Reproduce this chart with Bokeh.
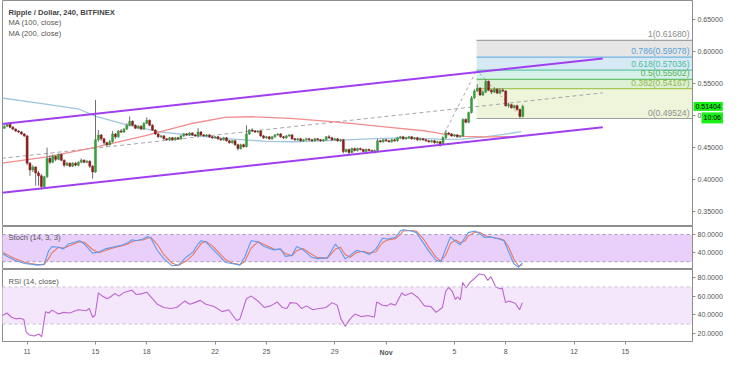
from bokeh.plotting import figure
from bokeh.layouts import column
from bokeh.models import Range1d, FixedTicker, PrintfTickFormatter, Label, Span
from bokeh.embed import file_html
from bokeh.resources import INLINE

FONT = "Liberation Sans"

# ---------------- data ----------------
candle_start_day = 9.667          # Oct 9, 16:00 (x axis: day of October, Nov 1 = 32)
candle_step_day = 1.0 / 6.0       # 240-minute candles

opens = [0.4803,0.4833,0.4864,0.4818,0.4788,0.4758,0.4742,0.4712,0.4682,0.4258,
 0.4152,0.4197,0.4106,0.4061,0.3894,0.4045,0.4333,0.4273,0.4364,0.4318,
 0.4394,0.4303,0.4227,0.4258,0.4212,0.4258,0.4227,0.4273,0.4303,0.4273,
 0.4288,0.4212,0.4121,0.4621,0.4697,0.4636,0.4576,0.4545,0.4591,0.4712,
 0.4667,0.4758,0.4742,0.4788,0.4848,0.4909,0.4848,0.4803,0.4833,0.4788,
 0.4879,0.4924,0.4848,0.4773,0.4712,0.4667,0.4682,0.4636,0.4621,0.4652,
 0.4621,0.4652,0.4636,0.4682,0.4712,0.4697,0.4727,0.4697,0.4682,0.4742,
 0.4697,0.4682,0.4697,0.4667,0.4652,0.4667,0.4636,0.4621,0.4652,0.4606,
 0.4576,0.4606,0.4545,0.4485,0.4545,0.4515,0.4712,0.4773,0.4758,0.4742,
 0.4758,0.4682,0.4652,0.4667,0.4636,0.4667,0.4697,0.4712,0.4667,0.4652,
 0.4682,0.4697,0.4636,0.4621,0.4636,0.4606,0.4621,0.4636,0.4621,0.4606,
 0.4636,0.4621,0.4606,0.4621,0.4667,0.4652,0.4621,0.4636,0.4606,0.4621,
 0.4439,0.4470,0.4424,0.4485,0.4455,0.4485,0.4470,0.4439,0.4470,0.4455,
 0.4439,0.4455,0.4606,0.4591,0.4621,0.4606,0.4591,0.4621,0.4606,0.4652,
 0.4667,0.4636,0.4652,0.4667,0.4636,0.4652,0.4621,0.4636,0.4621,0.4606,
 0.4591,0.4606,0.4576,0.4591,0.4561,0.4652,0.4727,0.4712,0.4682,0.4697,
 0.4667,0.4682,0.4939,0.4894,0.5045,0.5273,0.5379,0.5424,0.5318,0.5364,
 0.5530,0.5394,0.5364,0.5409,0.5348,0.5394,0.5379,0.5152,0.5167,0.5121,
 0.5152,0.5091,0.4985]

highs = [0.4848,0.4879,0.4870,0.4833,0.4800,0.4773,0.4758,0.4727,0.4697,0.4273,
 0.4227,0.4212,0.4136,0.4091,0.4061,0.4500,0.4379,0.4394,0.4379,0.4409,
 0.4409,0.4318,0.4273,0.4273,0.4273,0.4273,0.4288,0.4333,0.4318,0.4303,
 0.4303,0.4227,0.5242,0.4773,0.4712,0.4652,0.4591,0.4621,0.4758,0.4727,
 0.4773,0.4788,0.4803,0.4879,0.4985,0.4924,0.4864,0.4848,0.4848,0.4894,
 0.4970,0.4939,0.4864,0.4788,0.4727,0.4697,0.4697,0.4652,0.4667,0.4667,
 0.4667,0.4667,0.4697,0.4727,0.4727,0.4742,0.4742,0.4712,0.4803,0.4758,
 0.4712,0.4712,0.4712,0.4682,0.4682,0.4682,0.4652,0.4667,0.4667,0.4621,
 0.4621,0.4621,0.4561,0.4561,0.4561,0.4848,0.4788,0.4803,0.4773,0.4773,
 0.4773,0.4697,0.4682,0.4682,0.4682,0.4712,0.4727,0.4727,0.4682,0.4697,
 0.4712,0.4712,0.4652,0.4652,0.4652,0.4636,0.4652,0.4652,0.4636,0.4652,
 0.4652,0.4636,0.4636,0.4682,0.4697,0.4667,0.4652,0.4652,0.4636,0.4636,
 0.4485,0.4485,0.4500,0.4500,0.4500,0.4500,0.4485,0.4485,0.4485,0.4470,
 0.4470,0.4636,0.4621,0.4636,0.4636,0.4621,0.4636,0.4636,0.4667,0.4682,
 0.4682,0.4667,0.4682,0.4682,0.4667,0.4667,0.4652,0.4652,0.4636,0.4621,
 0.4621,0.4621,0.4606,0.4606,0.4667,0.4773,0.4742,0.4727,0.4712,0.4712,
 0.4697,0.4955,0.4955,0.5061,0.5303,0.5409,0.5485,0.5439,0.5394,0.5561,
 0.5545,0.5409,0.5439,0.5424,0.5424,0.5424,0.5394,0.5197,0.5182,0.5167,
 0.5167,0.5106,0.5167]

lows = [0.4788,0.4818,0.4803,0.4773,0.4742,0.4727,0.4697,0.4667,0.4227,0.4061,
 0.4121,0.3909,0.3909,0.3848,0.3864,0.4030,0.4242,0.4258,0.4288,0.4303,
 0.4288,0.4197,0.4212,0.4197,0.4197,0.4212,0.4212,0.4258,0.4258,0.4258,
 0.4182,0.4015,0.4106,0.4591,0.4606,0.4545,0.4515,0.4530,0.4576,0.4636,
 0.4652,0.4727,0.4727,0.4773,0.4833,0.4833,0.4788,0.4788,0.4773,0.4773,
 0.4864,0.4833,0.4758,0.4697,0.4652,0.4652,0.4621,0.4606,0.4606,0.4606,
 0.4606,0.4621,0.4621,0.4667,0.4682,0.4682,0.4682,0.4667,0.4667,0.4682,
 0.4667,0.4667,0.4652,0.4636,0.4636,0.4621,0.4606,0.4606,0.4591,0.4561,
 0.4561,0.4530,0.4455,0.4470,0.4500,0.4500,0.4697,0.4742,0.4727,0.4727,
 0.4667,0.4636,0.4636,0.4621,0.4621,0.4652,0.4682,0.4652,0.4636,0.4636,
 0.4667,0.4621,0.4606,0.4606,0.4591,0.4591,0.4606,0.4606,0.4591,0.4591,
 0.4606,0.4591,0.4591,0.4606,0.4636,0.4606,0.4606,0.4591,0.4591,0.4409,
 0.4424,0.4394,0.4409,0.4439,0.4439,0.4455,0.4424,0.4424,0.4439,0.4424,
 0.4409,0.4439,0.4576,0.4576,0.4591,0.4576,0.4576,0.4591,0.4591,0.4636,
 0.4621,0.4621,0.4636,0.4621,0.4621,0.4606,0.4606,0.4606,0.4591,0.4576,
 0.4576,0.4561,0.4561,0.4515,0.4545,0.4636,0.4697,0.4667,0.4667,0.4652,
 0.4652,0.4667,0.4879,0.4879,0.5030,0.5258,0.5364,0.5303,0.5303,0.5348,
 0.5379,0.5333,0.5348,0.5333,0.5333,0.5364,0.5136,0.5121,0.5106,0.5106,
 0.5076,0.4952,0.4970]

closes = [0.4833,0.4864,0.4818,0.4788,0.4758,0.4742,0.4712,0.4682,0.4258,0.4152,
 0.4197,0.4106,0.4061,0.3894,0.4045,0.4333,0.4273,0.4364,0.4318,0.4394,
 0.4303,0.4227,0.4258,0.4212,0.4258,0.4227,0.4273,0.4303,0.4273,0.4288,
 0.4212,0.4121,0.4621,0.4697,0.4636,0.4576,0.4545,0.4591,0.4712,0.4667,
 0.4758,0.4742,0.4788,0.4848,0.4909,0.4848,0.4803,0.4833,0.4788,0.4879,
 0.4924,0.4848,0.4773,0.4712,0.4667,0.4682,0.4636,0.4621,0.4652,0.4621,
 0.4652,0.4636,0.4682,0.4712,0.4697,0.4727,0.4697,0.4682,0.4742,0.4697,
 0.4682,0.4697,0.4667,0.4652,0.4667,0.4636,0.4621,0.4652,0.4606,0.4576,
 0.4606,0.4545,0.4485,0.4545,0.4515,0.4712,0.4773,0.4758,0.4742,0.4758,
 0.4682,0.4652,0.4667,0.4636,0.4667,0.4697,0.4712,0.4667,0.4652,0.4682,
 0.4697,0.4636,0.4621,0.4636,0.4606,0.4621,0.4636,0.4621,0.4606,0.4636,
 0.4621,0.4606,0.4621,0.4667,0.4652,0.4621,0.4636,0.4606,0.4621,0.4439,
 0.4470,0.4424,0.4485,0.4455,0.4485,0.4470,0.4439,0.4470,0.4455,0.4439,
 0.4455,0.4606,0.4591,0.4621,0.4606,0.4591,0.4621,0.4606,0.4652,0.4667,
 0.4636,0.4652,0.4667,0.4636,0.4652,0.4621,0.4636,0.4621,0.4606,0.4591,
 0.4606,0.4576,0.4591,0.4561,0.4652,0.4727,0.4712,0.4682,0.4697,0.4667,
 0.4682,0.4939,0.4894,0.5045,0.5273,0.5379,0.5424,0.5318,0.5364,0.5530,
 0.5394,0.5364,0.5409,0.5348,0.5394,0.5379,0.5152,0.5167,0.5121,0.5152,
 0.5091,0.4985,0.5140]

ma100_days = [9.50,12.18,15.02,17.87,20.71,22.58,24.12,26.39,28.66,30.37,32.07,34.35,35.48,36.62,37.76,39.92]
ma100_vals = [0.4258,0.4356,0.4508,0.4682,0.4879,0.4970,0.4980,0.4955,0.4909,0.4864,0.4818,0.4758,0.4705,0.4674,0.4667,0.4674]

ma200_days = [9.50,12.18,14.05,15.02,16.90,18.83,20.71,22.58,24.97,26.56,29.40,31.33,33.21,35.31,36.45,37.76,38.90,39.92]
ma200_vals = [0.5273,0.5173,0.5097,0.4985,0.4848,0.4742,0.4692,0.4641,0.4598,0.4591,0.4616,0.4641,0.4652,0.4629,0.4632,0.4667,0.4705,0.4750]

channel_days = [9.52, 44.68]
channel_upper = [0.4868, 0.5886]
channel_lower = [0.3798, 0.4818]
channel_mid = [0.4333, 0.5352]

trend_up_days = [35.10, 37.30]
trend_up_prices = [0.4561, 0.5704]
trend_down_days = [37.30, 39.85]
trend_down_prices = [0.5704, 0.4985]

fib_start_day = 37.30
fib_names = ["1", "0.786", "0.618", "0.5", "0.382", "0"]
fib_prices = [0.61680, 0.59078, 0.57036, 0.55602, 0.54167, 0.49524]

last_price = 0.51404
last_price_text = "0.51404"
countdown_text = "10:06"
countdown_price = 0.4962

stoch_days = [9.56,9.90,10.28,10.85,11.21,11.61,11.99,12.27,12.46,12.84,
 13.13,13.41,13.79,14.07,14.35,14.83,15.19,15.59,15.97,16.44,
 16.82,17.14,17.39,17.77,18.05,18.24,18.62,19.00,19.47,19.85,
 20.32,20.70,20.99,21.18,21.46,21.84,22.22,22.60,22.98,23.45,
 23.73,24.11,24.50,24.87,25.44,25.82,26.11,26.49,26.77,27.15,
 27.62,28.00,28.57,29.04,29.33,29.61,29.90,30.27,30.65,31.03,
 31.41,31.79,32.07,32.55,32.83,33.02,33.50,33.78,34.16,34.54,
 34.92,35.20,35.49,35.77,36.06,36.34,36.62,36.81,37.19,37.48,
 37.76,38.14,38.61,38.90,39.18,39.47,39.75,39.98]
stoch_k = [37.6,30.5,23.2,16,14.6,12.5,14.6,44.8,53.4,52,
 48.4,59,62.8,66.3,59,39,41.3,48.4,52,55.5,
 60.6,68.4,66.3,70,75.7,72,44.8,26.9,11.2,12.5,
 30.5,41.3,59,66.3,64,48.4,34,18.3,16,12.5,
 30.5,66.3,64,53.4,46.2,48.4,31.8,34,53.4,46.2,
 30.5,26.9,29,59,44.8,26.2,34,44.8,42,36.1,
 48.4,72,70,73.5,87.7,90.8,87.7,84.3,62.8,41.3,
 23.2,19.8,48.4,74.8,65,57.6,73.5,84.3,87.7,82.2,
 73.5,74.8,70,66.3,41.3,16,7.5,17.6]
stoch_d = [41,34,27,19,16,13.5,13.5,28,40,52,
 50,54,60,64,63,47,40,45,50,54,
 58,64,67,68,72,74,58,36,17,11.5,
 22,35,50,60,65,55,40,25,17,14,
 20,50,64,58,48,47,38,33,44,49,
 37,29,28,48,52,36,30,40,43,39,
 42,62,68,71,80,88,89,87,72,50,
 30,21,35,60,68,62,66,77,85,85,
 78,74,71,68,52,26,11,13]

rsi_days = [9.56,9.81,10.09,10.37,10.57,10.81,10.94,11.14,11.42,11.70,
 11.85,12.08,12.27,12.46,12.84,13.13,13.50,13.98,14.45,14.64,
 14.83,14.98,15.17,15.40,15.68,15.87,16.12,16.38,16.63,16.91,
 17.14,17.39,17.67,17.99,18.33,18.62,19.00,19.38,19.75,20.23,
 20.52,20.80,21.12,21.46,21.94,22.41,22.79,23.26,23.45,23.83,
 24.12,24.50,24.87,25.25,25.63,25.92,26.20,26.39,26.77,27.05,
 27.34,27.71,28.10,28.48,28.85,29.14,29.36,29.61,29.90,30.18,
 30.56,30.94,31.32,31.45,31.79,32.07,32.26,32.55,32.93,33.11,
 33.50,33.88,34.25,34.63,34.92,35.30,35.49,35.67,35.87,36.06,
 36.19,36.34,36.49,36.68,36.91,37.19,37.44,37.76,37.95,38.14,
 38.42,38.71,38.80,38.99,39.18,39.56,39.81,39.98]
rsi_vals = [39.2,41.9,37.4,35.6,36.3,35,21.7,18.2,17.2,19.3,
 16.4,43.4,41.9,45,40.8,42.6,41.9,45.4,44.4,46.8,
 37.4,39.8,63.6,60.1,57.3,59.1,62.8,60.1,63.6,65.3,
 66.4,61.8,62.5,64.3,57.3,51.3,47.9,46.8,47.9,54.9,
 51.3,53.1,55.5,51.3,48.9,43.4,45.4,33.9,35.6,57.3,
 60.1,54.9,47.9,49.6,53.8,47.9,46.8,53.1,52.4,46.8,
 49.6,45.4,46.8,47.9,53.1,50.3,35.6,27.6,35.6,40.8,
 38,39.2,37.4,53.8,50.3,49.6,52,50.3,63.6,60.7,
 63.6,58.3,49.6,48.9,42.6,47.9,65.3,69.5,65.3,56.5,
 59.4,55.9,74.8,68.8,74.8,79.3,83.8,82.7,76.9,81,
 69.8,67.7,68.8,53.1,54.9,52.4,45.4,53.1]

price_ticks = [0.35, 0.40, 0.45, 0.50, 0.55, 0.60, 0.65]
stoch_ticks = [40, 80]
stoch_band = [20, 80]
rsi_ticks = [20, 40, 60, 80]
rsi_band = [30, 70]
x_tick_days = [11, 15, 18, 22, 25, 29, 32, 36, 39, 43, 46]
x_tick_labels = ["11", "15", "18", "22", "25", "29", "Nov", "5", "8", "12", "15"]
bold_tick_label = "Nov"

# ---------------- layout ----------------
X_START, X_END = 9.56, 49.93
FW = 690
H_PRICE, H_STOCH, H_RSI = 226, 43, 72
XR = Range1d(X_START, X_END)
YR_P = Range1d(0.3273, 0.6788)
YR_S = Range1d(2.8, 97.8)
YR_R = Range1d(11.3, 88.7)

AX_COL = "#8e8e8e"
TXT_COL = "#555555"


def xd(px):
    return X_START + px * (X_END - X_START) / FW


def yd(yr, fh, px):
    return yr.end - px * (yr.end - yr.start) / fh


def make_fig(fh, yr, ticks, fmt, with_x=False):
    f = figure(frame_width=FW, frame_height=fh, x_range=XR, y_range=yr,
               output_backend="svg", toolbar_location=None,
               y_axis_location="right",
               x_axis_location="below" if with_x else None,
               min_border_left=2, min_border_right=40,
               min_border_top=0, min_border_bottom=0)
    f.grid.visible = False
    f.outline_line_color = AX_COL
    f.outline_line_width = 1
    f.background_fill_color = "white"
    f.border_fill_color = "white"
    ax = f.yaxis[0]
    ax.ticker = FixedTicker(ticks=ticks)
    ax.formatter = PrintfTickFormatter(format=fmt)
    ax.major_label_text_font = FONT
    ax.major_label_text_font_size = "7px"
    ax.major_label_text_color = TXT_COL
    ax.axis_line_color = AX_COL
    ax.major_tick_line_color = AX_COL
    ax.major_tick_out = 3
    ax.major_tick_in = 0
    ax.minor_tick_line_color = None
    ax.major_label_standoff = 2
    return f


# ---------------- price panel ----------------
p = make_fig(H_PRICE, YR_P, price_ticks, "%.5f")

zone_colors = ["#e6e6e6", "#d7e9f5", "#d6f1e9", "#dcf0d6", "#eef5da"]
line_colors = ["#a0a0a0", "#72b3e0", "#62c7a7", "#6abf6a", "#a8c55c", "#a0a0a0"]
label_colors = ["#8a8a8a", "#5aa2d6", "#4cbf9c", "#58b458", "#98b844", "#8f8f8f"]
for k in range(len(fib_prices) - 1):
    p.quad(left=[fib_start_day], right=[X_END + 2], top=[fib_prices[k]],
           bottom=[fib_prices[k + 1]], fill_color=zone_colors[k], line_color=None)
for k, fp in enumerate(fib_prices):
    p.segment(x0=[fib_start_day], y0=[fp], x1=[X_END + 2], y1=[fp],
              line_color=line_colors[k], line_width=1.2)
    p.add_layout(Label(x=xd(FW - 3), y=fp + 1.0 * (YR_P.end - YR_P.start) / H_PRICE,
                       text=f"{fib_names[k]}({fp:.5f})", text_align="right",
                       text_baseline="bottom", text_font=FONT, text_font_size="8.6px",
                       text_color=label_colors[k]))

p.line(channel_days, channel_mid, line_color="#a6a6a6", line_width=1, line_dash="4 3")
p.line(trend_up_days, trend_up_prices, line_color="#a6a6a6", line_width=1, line_dash="3 3")
p.line(trend_down_days, trend_down_prices, line_color="#a6a6a6", line_width=1, line_dash="2 3")

p.line(ma200_days, ma200_vals, line_color="#9fc6dd", line_width=1.3)
p.line(ma100_days, ma100_vals, line_color="#f38c8c", line_width=1.3)

times = [candle_start_day + i * candle_step_day for i in range(len(closes))]
up_col, dn_col = "#3a9c3f", "#8b1f1f"
cols = [up_col if c >= o else dn_col for o, c in zip(opens, closes)]
tops = [max(o, c) for o, c in zip(opens, closes)]
bots = [min(o, c) for o, c in zip(opens, closes)]
p.segment(x0=times, y0=lows, x1=times, y1=highs, line_color="#707070", line_width=1)
p.vbar(x=times, width=0.12, top=tops, bottom=bots, fill_color=cols, line_color=cols,
       line_width=0.5)

p.line(channel_days, channel_upper, line_color="#a03ef2", line_width=2)
p.line(channel_days, channel_lower, line_color="#a03ef2", line_width=2)

legend_lines = [("Ripple / Dollar, 240, BITFINEX", "bold", "#444444", 11.5),
                ("MA (100, close)", "normal", TXT_COL, 22.3),
                ("MA (200, close)", "normal", TXT_COL, 33.1)]
for txt, style, col, py in legend_lines:
    p.add_layout(Label(x=xd(6), y=yd(YR_P, H_PRICE, py), text=txt, text_baseline="middle",
                       text_font=FONT, text_font_size="7.6px", text_font_style=style,
                       text_color=col))

# price-scale markers live in the right side panel so that they are not clipped
p.add_layout(Label(x=xd(FW + 1), y=last_price, text=last_price_text, text_baseline="middle",
                   text_font=FONT, text_font_size="7px", text_color="#000000",
                   background_fill_color="#19f019", padding=2), "right")
p.add_layout(Label(x=xd(FW + 9), y=countdown_price, text=countdown_text, text_baseline="middle",
                   text_font=FONT, text_font_size="7px", text_color="#000000",
                   background_fill_color="#19f019", padding=2), "right")

# ---------------- stochastic panel ----------------
s = make_fig(H_STOCH, YR_S, stoch_ticks, "%.4f")
s.quad(left=[X_START - 1], right=[X_END + 1], bottom=[stoch_band[0]], top=[stoch_band[1]],
       fill_color="#e9d0fb", line_color=None)
for lv in stoch_band:
    s.add_layout(Span(location=lv, dimension="width", line_color="#a597b5",
                      line_width=1, line_dash="3 3"))
s.line(stoch_days, stoch_d, line_color="#f07658", line_width=1.1)
s.line(stoch_days, stoch_k, line_color="#5a9cf0", line_width=1.1)
s.add_layout(Label(x=xd(6), y=yd(YR_S, H_STOCH, 10.7), text="Stoch (14, 3, 3)",
                   text_baseline="middle", text_font=FONT, text_font_size="7.6px",
                   text_color=TXT_COL))

# ---------------- RSI panel ----------------
r = make_fig(H_RSI, YR_R, rsi_ticks, "%.4f", with_x=True)
r.quad(left=[X_START - 1], right=[X_END + 1], bottom=[rsi_band[0]], top=[rsi_band[1]],
       fill_color="#f4e7fc", line_color=None)
for lv in rsi_band:
    r.add_layout(Span(location=lv, dimension="width", line_color="#cdbfd6",
                      line_width=1, line_dash="3 3"))
r.line(rsi_days, rsi_vals, line_color="#bd65d0", line_width=1.1)
r.add_layout(Label(x=xd(6), y=yd(YR_R, H_RSI, 11.7), text="RSI (14, close)",
                   text_baseline="middle", text_font=FONT, text_font_size="7.6px",
                   text_color=TXT_COL))

xa = r.xaxis[0]
xa.ticker = FixedTicker(ticks=x_tick_days)
xa.major_label_overrides = {d: ("" if lab == bold_tick_label else lab)
                            for d, lab in zip(x_tick_days, x_tick_labels)}
xa.major_label_text_font = FONT
xa.major_label_text_font_size = "7px"
xa.major_label_text_color = TXT_COL
xa.axis_line_color = AX_COL
xa.major_tick_line_color = AX_COL
xa.major_tick_out = 3
xa.major_tick_in = 0
xa.minor_tick_line_color = None
xa.major_label_standoff = 4
bold_day = x_tick_days[x_tick_labels.index(bold_tick_label)]
r.add_layout(Label(x=bold_day, y=yd(YR_R, H_RSI, H_RSI + 7), text=bold_tick_label,
                   text_align="center", text_baseline="top", text_font=FONT,
                   text_font_size="7px", text_font_style="bold", text_color=TXT_COL), "below")

layout = column(p, s, r, spacing=0)
open("out.html", "w").write(file_html(layout, INLINE))
